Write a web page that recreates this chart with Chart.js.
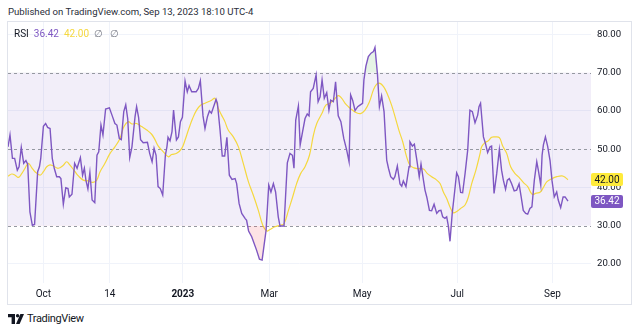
<!DOCTYPE html>
<html>
<head>
<meta charset="utf-8">
<script src="https://cdn.jsdelivr.net/npm/chart.js@4.4.0/dist/chart.umd.min.js"></script>
<style>
  html, body { margin: 0; padding: 0; background: #fff; }
  body { width: 640px; height: 333px; position: relative; overflow: hidden; font-family: Roboto, "Liberation Sans", sans-serif; color: #131722; }
  #header { position: absolute; left: 8px; top: 5px; font-size: 9.6px; line-height: 13px; white-space: nowrap; color: #2A2E39; }
  #frame { position: absolute; left: 7px; top: 21px; width: 625px; height: 284px; box-sizing: border-box; border: 1px solid #E0E3EB; }
  #frame canvas { position: absolute; left: 0; top: 0; }
  #legend { position: absolute; left: 14px; top: 27px; font-size: 10px; line-height: 13px; white-space: nowrap; }
  #legend span { margin-right: 5px; }
  #legend .na { color: #787B86; margin-right: 7px; }
  #brand { position: absolute; left: 8px; top: 312px; font-size: 11px; letter-spacing: -0.35px; line-height: 14px; white-space: nowrap; display: flex; align-items: center; }
  #brand svg { margin-right: 3px; }
</style>
</head>
<body>
<div id="header">Published on TradingView.com, Sep 13, 2023 18:10 UTC-4</div>
<div id="frame"><canvas id="rsi" width="623" height="282"></canvas></div>
<div id="legend"></div>
<div id="brand">
  <svg width="16" height="10" viewBox="0 0 16 10"><path d="M0 0H7V10H3.6V3.2H0Z" fill="#131722"/><circle cx="9.6" cy="1.7" r="1.7" fill="#131722"/><path d="M12.4 0H16L11.6 10H8Z" fill="#131722"/></svg>
  <span>TradingView</span>
</div>
<script>
// ---- data (x = trading day index, Sep 2022 -> Sep 13 2023) ----
const tickDays = [16, 46, 79, 118, 160, 203, 246];
const tickLabels = ["Oct", "14", "2023", "Mar", "May", "Jul", "Sep"];
const yTicks = [20, 30, 40, 50, 60, 70, 80];
const levels = [70, 50, 30];

const rsiDays = [
    0, 0.9, 2, 3, 4.2, 5, 6, 7.1, 8.1, 8.9, 9.9, 11, 12, 13.4, 14.2, 14.8, 16, 17, 17.9, 19,
    20, 20.9, 22, 23.2, 23.9, 25, 26.1, 27.1, 27.7, 28.9, 30.1, 31.2, 32.7, 33.7, 34.5, 35.2, 36.1, 37, 38, 39.2,
    40.2, 41, 42, 42.9, 44.1, 45.8, 47.1, 48.3, 49.2, 50.3, 51.2, 52.3, 53.2, 54.1, 55, 56, 57.4, 58.1, 59, 59.9,
    61.1, 63, 64, 65.1, 66, 66.9, 67.8, 68.8, 69.9, 71.1, 71.8, 72.3, 73.2, 74.1, 74.8, 76.1, 77, 77.9, 78.8, 80,
    81, 81.8, 83, 85, 86, 86.9, 88.1, 89, 90.1, 91, 91.9, 94, 94.6, 95.8, 96.8, 97.9, 98.9, 100, 101.2, 102.6,
    103.3, 104.4, 105.6, 107.1, 107.8, 108.7, 110.1, 112.3, 113.6, 114.8, 116.6, 117.8, 118.8, 119.9, 120.9, 122.1, 122.9, 124.7, 126.2, 127.4,
    128.5, 129.2, 130, 131.2, 132, 133.1, 134.2, 135.2, 136, 136.7, 137.9, 139.2, 140.1, 141, 141.9, 142.9, 144, 145, 145.8, 147,
    148, 149.2, 150.4, 151.7, 153, 154.1, 154.8, 155.7, 156.8, 158, 159, 160.2, 160.8, 161.7, 162.8, 164, 165.1, 165.8, 166.9, 167.8,
    168.8, 169.9, 171.1, 171.9, 172.9, 174.1, 174.8, 175.9, 177.1, 177.9, 178.6, 179.8, 181.2, 181.6, 182.7, 183.6, 184.6, 185.8, 186.6, 187.7,
    188.4, 189.2, 190.4, 191.4, 192.5, 193.7, 194.7, 195.6, 196.4, 197.4, 198.2, 198.9, 199.7, 200.7, 201.7, 202.7, 203.5, 204.5, 205.4, 206.5,
    207.7, 208.7, 209.8, 211, 212.2, 212.8, 213.5, 214.8, 215.7, 216.7, 217.8, 218.5, 219.6, 220.8, 222, 223, 223.8, 224.8, 225.6, 226.5,
    227.5, 228.7, 229.8, 230.9, 231.8, 232.8, 233.9, 234.8, 235.8, 236.7, 237.8, 238.9, 239.6, 240.7, 241.3, 241.9, 242.8, 243.8, 244.9, 245.8,
    246.8, 247.9, 248.6, 249.7, 250.8, 251.7, 253
];
const rsiValues = [
    50.6, 53.7, 47.6, 47.6, 44.5, 45.4, 50.5, 46.3, 47.0, 46.1, 33.6, 30.1, 30.3, 44.1, 45.4, 47.6, 56.0, 56.7, 55.7, 55.4,
    47.6, 45.0, 42.8, 42.8, 42.3, 35.6, 39.9, 39.7, 37.5, 38.2, 46.3, 45.0, 47.8, 43.2, 45.0, 41.9, 39.6, 43.9, 36.7, 36.0,
    48.4, 49.3, 56.3, 53.7, 60.5, 60.8, 58.7, 56.7, 56.3, 52.8, 52.5, 59.8, 61.6, 57.9, 47.8, 50.6, 58.5, 61.1, 58.3, 52.5,
    51.7, 51.8, 48.9, 46.7, 50.2, 48.4, 40.2, 39.7, 38.0, 48.4, 50.6, 53.1, 52.2, 54.6, 60.2, 52.4, 53.2, 57.2, 58.3, 67.8,
    65.0, 66.6, 65.0, 65.0, 65.9, 67.9, 58.7, 55.4, 58.5, 60.0, 59.4, 63.0, 62.0, 55.0, 48.2, 48.2, 53.1, 43.2, 42.1, 42.3,
    41.0, 35.8, 33.2, 31.9, 31.4, 28.6, 27.1, 23.6, 21.2, 21.0, 28.8, 40.6, 38.8, 41.0, 38.8, 32.3, 29.9, 29.9, 46.4, 48.9,
    48.4, 45.0, 57.6, 61.3, 51.1, 54.6, 58.0, 59.2, 58.7, 65.0, 65.9, 69.4, 62.4, 63.7, 68.1, 63.3, 64.8, 60.2, 62.8, 62.4,
    67.6, 58.7, 57.2, 52.8, 49.8, 46.7, 64.2, 62.8, 60.1, 61.1, 61.5, 62.0, 68.1, 71.7, 74.2, 75.1, 75.5, 76.6, 69.8, 61.1,
    63.9, 59.8, 47.1, 45.0, 42.8, 42.1, 42.8, 45.6, 40.9, 40.3, 41.7, 40.2, 45.4, 51.9, 50.8, 51.3, 47.6, 42.8, 46.1, 41.9,
    39.3, 37.5, 34.0, 33.9, 35.6, 33.2, 33.9, 34.0, 32.3, 31.9, 32.3, 30.1, 25.9, 33.2, 38.4, 43.8, 42.8, 38.7, 38.6, 43.6,
    49.8, 60.2, 59.8, 56.9, 58.9, 61.1, 62.0, 53.2, 51.5, 49.1, 50.6, 50.8, 38.4, 43.6, 49.9, 44.5, 41.9, 39.5, 41.9, 42.3,
    41.0, 39.1, 39.3, 40.9, 37.7, 34.0, 33.2, 33.0, 34.5, 34.9, 41.9, 46.7, 44.5, 40.6, 48.4, 51.1, 53.2, 50.8, 47.0, 41.7,
    37.5, 38.8, 36.7, 34.7, 37.5, 37.5, 36.42
];

const maDays = [
    0, 1.7, 3.2, 4.7, 6.2, 7.7, 9.2, 10.7, 12.2, 14.5, 16, 17.5, 19, 20.5, 22.7, 25, 26.5, 28, 30.3, 31.8,
    34, 36.3, 38.3, 40.1, 41.6, 43.8, 46.1, 48.3, 50.6, 52.4, 54.4, 55.9, 58.1, 60.4, 62.7, 64.9, 66.4, 67.9, 70.2, 72.4,
    73.9, 76.2, 78.5, 80, 81.5, 83.4, 85.2, 87, 89, 90.5, 92, 93.5, 95, 96.5, 98, 99.5, 101.8, 104.1, 106.3, 108.6,
    110.8, 113.1, 115.1, 116.9, 118.4, 120.6, 123, 124.7, 126.7, 128.6, 130.4, 132.2, 134.2, 136.2, 138, 139.5, 141.8, 143.6, 145.5, 147.3,
    149.2, 150.8, 152.3, 153.8, 155.7, 157.5, 159.3, 161.3, 163.3, 165.1, 166.6, 168.1, 169.6, 171.1, 173.3, 175.3, 176.8, 178.3, 180.1, 181.6,
    183.4, 185.4, 187.7, 189.5, 191.4, 193.7, 195.2, 196.7, 198.2, 199.7, 201.2, 202.7, 204.5, 206.5, 208, 209.5, 211.4, 213.3, 214, 215.5,
    217, 218.5, 220, 222, 223.5, 225.3, 227.1, 229.1, 230.9, 233, 234.8, 236.8, 238.7, 240.5, 242, 243.5, 245.8, 248, 250.3, 251.8,
    253
];
const maValues = [
    42.9, 43.5, 43.2, 42.6, 43.6, 45.0, 46.3, 45.2, 44.1, 43.2, 44.1, 45.4, 45.9, 45.6, 45.0, 45.8, 46.7, 45.8, 44.1, 43.0,
    41.9, 41.7, 41.3, 41.9, 44.1, 46.3, 48.9, 50.6, 52.8, 55.9, 57.2, 56.6, 56.7, 55.9, 55.0, 53.9, 52.5, 50.8, 49.3, 48.0,
    48.6, 48.9, 50.2, 52.4, 55.0, 58.0, 60.2, 61.5, 62.0, 62.4, 62.8, 63.3, 60.7, 58.9, 57.2, 55.0, 53.2, 50.6, 46.3, 41.5,
    38.0, 34.0, 30.1, 28.6, 29.0, 29.7, 30.1, 30.5, 34.0, 37.5, 41.0, 43.6, 45.4, 48.4, 53.7, 56.7, 59.3, 61.5, 62.0, 63.0,
    64.0, 63.3, 62.0, 61.1, 60.2, 59.5, 59.3, 60.2, 62.4, 65.5, 67.0, 67.2, 66.4, 64.8, 61.5, 57.6, 54.6, 52.0, 48.0, 45.8,
    45.1, 44.9, 44.8, 43.6, 42.8, 41.9, 41.0, 38.8, 37.1, 34.9, 33.4, 33.7, 34.5, 35.4, 37.5, 41.0, 44.5, 48.9, 50.6, 51.7,
    52.2, 53.1, 53.2, 53.0, 50.8, 48.9, 45.4, 43.6, 42.6, 41.2, 40.2, 38.2, 38.5, 38.8, 40.1, 41.5, 42.3, 42.8, 43.0, 42.6,
    42.00
];

const RSI_COLOR = "#7E57C2";
const MA_COLOR = "#F5D83F";
const TEXT = "#131722";
const GRID = "#F0F3FA";
const FONT = "Roboto, 'Liberation Sans', sans-serif";

const rsiPoints = rsiDays.map((d, i) => ({ x: d, y: rsiValues[i] }));
const maPoints = maDays.map((d, i) => ({ x: d, y: maValues[i] }));
const rsiLast = rsiValues[rsiValues.length - 1];
const maLast = maValues[maValues.length - 1];

// legend row
document.getElementById("legend").innerHTML =
    `<span>RSI</span><span style="color:${RSI_COLOR}">${rsiLast.toFixed(2)}</span>` +
    `<span style="color:${MA_COLOR}">${maLast.toFixed(2)}</span>` +
    `<span class="na">∅</span><span class="na">∅</span>`;

/** shaded 30-70 band plus dashed level lines */
const bandPlugin = {
    id: "rsiBand",
    beforeDatasetsDraw(chart) {
        const { ctx, chartArea: a, scales } = chart;
        const y = scales.y;
        const top = y.getPixelForValue(Math.max(...levels));
        const bot = y.getPixelForValue(Math.min(...levels));
        ctx.save();
        ctx.fillStyle = "rgba(126,87,194,0.1)";
        ctx.fillRect(a.left, top, a.right - a.left, bot - top);
        ctx.strokeStyle = "#9598A1";
        ctx.lineWidth = 1;
        ctx.setLineDash([3, 3]);
        levels.forEach((v) => {
            const py = Math.round(y.getPixelForValue(v)) + 0.5;
            ctx.beginPath();
            ctx.moveTo(a.left, py);
            ctx.lineTo(a.right, py);
            ctx.stroke();
        });
        ctx.restore();
    },
};

/** last-value tags on the price scale */
const tagPlugin = {
    id: "lastTags",
    afterDraw(chart) {
        const { ctx, chartArea: a, scales } = chart;
        const y = scales.y;
        const tags = [
            { v: maLast, bg: "#FFEB3B", fg: TEXT },
            { v: rsiLast, bg: RSI_COLOR, fg: "#FFFFFF" },
        ];
        ctx.save();
        ctx.font = `10px ${FONT}`;
        ctx.textBaseline = "middle";
        ctx.textAlign = "center";
        tags.forEach((t) => {
            const py = y.getPixelForValue(t.v);
            const x0 = a.right, w = 32, h = 13;
            ctx.fillStyle = t.bg;
            ctx.beginPath();
            ctx.roundRect(x0, Math.round(py - h / 2), w, h, 2);
            ctx.fill();
            ctx.fillStyle = t.fg;
            ctx.fillText(t.v.toFixed(2), x0 + w / 2, py + 0.5);
        });
        ctx.restore();
    },
};

new Chart(document.getElementById("rsi"), {
    type: "line",
    data: {
        datasets: [
            {
                label: "RSI",
                data: rsiPoints,
                borderColor: RSI_COLOR,
                borderWidth: 1.4,
                pointRadius: 0,
                tension: 0,
                fill: { target: { value: 30 }, above: "rgba(0,0,0,0)", below: "rgba(242,54,69,0.14)" },
            },
            {
                label: "RSI overbought",
                data: rsiPoints,
                borderWidth: 0,
                borderColor: "rgba(0,0,0,0)",
                pointRadius: 0,
                fill: { target: { value: 70 }, above: "rgba(76,175,80,0.14)", below: "rgba(0,0,0,0)" },
            },
            {
                label: "RSI-based MA",
                data: maPoints,
                borderColor: MA_COLOR,
                borderWidth: 1.2,
                pointRadius: 0,
                tension: 0.4,
                fill: false,
            },
        ],
    },
    options: {
        responsive: false,
        animation: false,
        devicePixelRatio: 1,
        layout: { padding: 0 },
        plugins: { legend: { display: false }, tooltip: { enabled: false } },
        scales: {
            x: {
                type: "linear",
                min: 0,
                max: 263.4,
                afterFit: (s) => {
                    s.height = 21;
                    s.paddingLeft = 0;
                    s.paddingRight = 0;
                },
                afterBuildTicks: (s) => { s.ticks = tickDays.map((v) => ({ value: v })); },
                border: { display: false },
                grid: { color: GRID, drawTicks: false },
                ticks: {
                    padding: 5,
                    maxRotation: 0,
                    autoSkip: false,
                    color: TEXT,
                    font: (c) => ({
                        family: FONT,
                        size: 10,
                        weight: c.tick && c.tick.value === tickDays[tickLabels.indexOf("2023")] ? "bold" : "normal",
                    }),
                    callback: (v) => tickLabels[tickDays.indexOf(v)],
                },
            },
            y: {
                position: "right",
                min: 15,
                max: 83.25,
                afterFit: (s) => {
                    s.width = 40;
                    s.paddingTop = 0;
                    s.paddingBottom = 0;
                },
                afterBuildTicks: (s) => { s.ticks = yTicks.map((v) => ({ value: v })); },
                border: { display: false },
                grid: {
                    drawTicks: false,
                    color: (c) => (c.tick && c.tick.value % 20 === 0 ? GRID : "rgba(0,0,0,0)"),
                },
                ticks: {
                    padding: 6,
                    color: TEXT,
                    font: { family: FONT, size: 9.6 },
                    callback: (v) => v.toFixed(2),
                },
            },
        },
    },
    plugins: [bandPlugin, tagPlugin],
});
</script>
</body>
</html>
